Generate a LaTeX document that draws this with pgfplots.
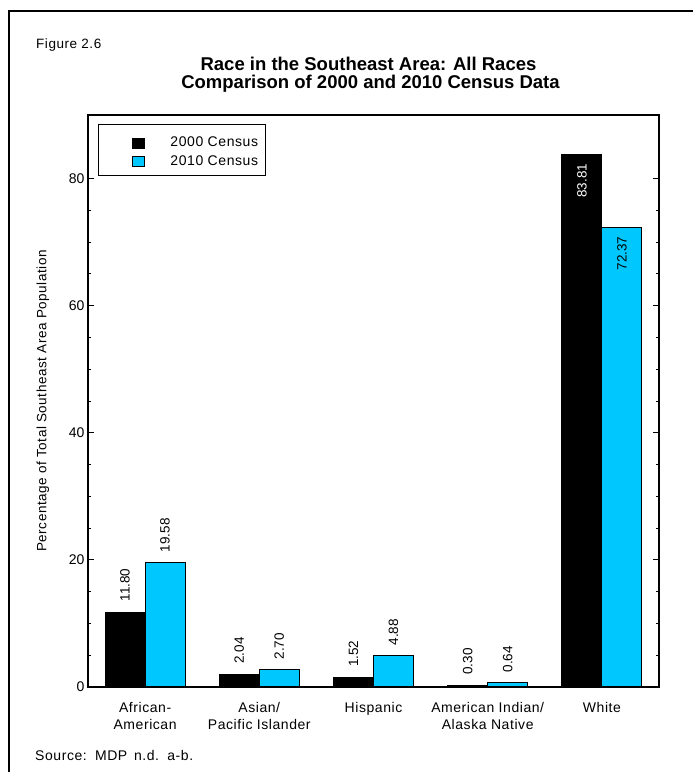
\documentclass[border=0pt]{standalone}
\usepackage{fontspec}
\setmainfont{Liberation Sans}
\newfontfamily\lsp{Liberation Sans}[LetterSpace=4]
\usepackage{pgfplots}
\pgfplotsset{compat=1.18}
\definecolor{cbar}{RGB}{0,200,255}
\pgfplotsset{sqlegend/.style={legend image code/.code={\path[draw=none,fill=none] (0pt,0pt) -- (65pt,0pt); \draw[##1, line width=1pt] (27pt,-8pt) rectangle (39pt,2pt);}}}
\begin{document}
\begin{tikzpicture}
\useasboundingbox (0pt,0pt) rectangle (693pt,772pt);
\draw[line width=2.5pt] (9pt,-5pt) -- (9pt,761pt) -- (700pt,761pt);
\node[anchor=base west, font=\fontsize{13.5}{15}\selectfont\lsp, inner sep=0pt] at (36pt,723.7pt) {Figure 2.6};
\node[anchor=base, font=\fontsize{18.5}{18}\selectfont\bfseries, inner sep=0pt] at (368.5pt,701pt) {Race in the Southeast Area: All Races};
\node[anchor=base, font=\fontsize{18.5}{18}\selectfont\bfseries, inner sep=0pt] at (370.5pt,683pt) {Comparison of 2000 and 2010 Census Data};
\node[anchor=base west, font=\fontsize{14}{16}\selectfont\lsp, inner sep=0pt] at (35pt,12pt) {Source:\, MDP\, n.d.\, a-b.};
\begin{axis}[
  at={(88pt,85pt)}, anchor=south west, scale only axis,
  width=571pt, height=572pt,
  xmin=-0.5, xmax=4.5, ymin=0, ymax=90,
  xtick={0,1,2,3,4},
  xticklabels={{African-\\American},{Asian/\\Pacific Islander},{Hispanic},{American Indian/\\Alaska Native},{White}},
  xtick style={draw=none},
  xticklabel style={align=center, font=\fontsize{14}{16.5}\selectfont\lsp, yshift=-12pt},
  ytick={0,20,40,60,80}, minor y tick num=3,
  ytick pos=both, yticklabel pos=left, tick align=inside,
  major tick length=6pt, minor tick length=3pt,
  tick style={line width=1pt, black},
  yticklabel style={font=\fontsize{14}{16}\selectfont},
  ylabel={Percentage of Total Southeast Area Population},
  ylabel style={at={(axis description cs:-0.0788,0.5)}, anchor=center, font=\fontsize{13.5}{16}\selectfont\lsp},
  axis line style={line width=1.5pt},
  /pgf/number format/assume math mode=true,
  legend style={at={(axis description cs:0.0175,0.984)}, anchor=north west,
    draw=black, line width=1pt, inner xsep=7pt, inner ysep=8pt,
    row sep=1.5pt, column sep=0pt,
    font=\fontsize{14}{16}\selectfont\lsp,
    nodes={inner sep=0pt, text height=14.3pt, text depth=2pt}},
]
\addplot[ybar, sqlegend, bar width=40pt, bar shift=-20pt, fill=black, draw=black, line width=1pt,
  nodes near coords={\pgfmathprintnumber[fixed,fixed zerofill,precision=2]{\pgfplotspointmeta}},
  every node near coord/.append style={xshift=-20pt, rotate=90, anchor=west, inner xsep=10pt, inner ysep=0pt, font=\fontsize{13.5}{15}\selectfont, text=black}]
  coordinates {(0,11.80) (1,2.04) (2,1.52) (3,0.30)};
\addlegendentry{2000 Census}
\addplot[forget plot, ybar, bar width=40pt, bar shift=-20pt, fill=black, draw=black, line width=1pt,
  nodes near coords={\pgfmathprintnumber[fixed,fixed zerofill,precision=2]{\pgfplotspointmeta}},
  every node near coord/.append style={xshift=-20pt, rotate=90, anchor=east, inner xsep=9pt, inner ysep=0pt, font=\fontsize{13.5}{15}\selectfont, text=white}]
  coordinates {(4,83.81)};
\addplot[ybar, sqlegend, bar width=40pt, bar shift=20pt, fill=cbar, draw=black, line width=1pt,
  nodes near coords={\pgfmathprintnumber[fixed,fixed zerofill,precision=2]{\pgfplotspointmeta}},
  every node near coord/.append style={xshift=20pt, rotate=90, anchor=west, inner xsep=10pt, inner ysep=0pt, font=\fontsize{13.5}{15}\selectfont, text=black}]
  coordinates {(0,19.58) (1,2.70) (2,4.88) (3,0.64)};
\addlegendentry{2010 Census}
\addplot[forget plot, ybar, bar width=40pt, bar shift=20pt, fill=cbar, draw=black, line width=1pt,
  nodes near coords={\pgfmathprintnumber[fixed,fixed zerofill,precision=2]{\pgfplotspointmeta}},
  every node near coord/.append style={xshift=20pt, rotate=90, anchor=east, inner xsep=9pt, inner ysep=0pt, font=\fontsize{13.5}{15}\selectfont, text=black}]
  coordinates {(4,72.37)};
\end{axis}
\end{tikzpicture}
\end{document}
